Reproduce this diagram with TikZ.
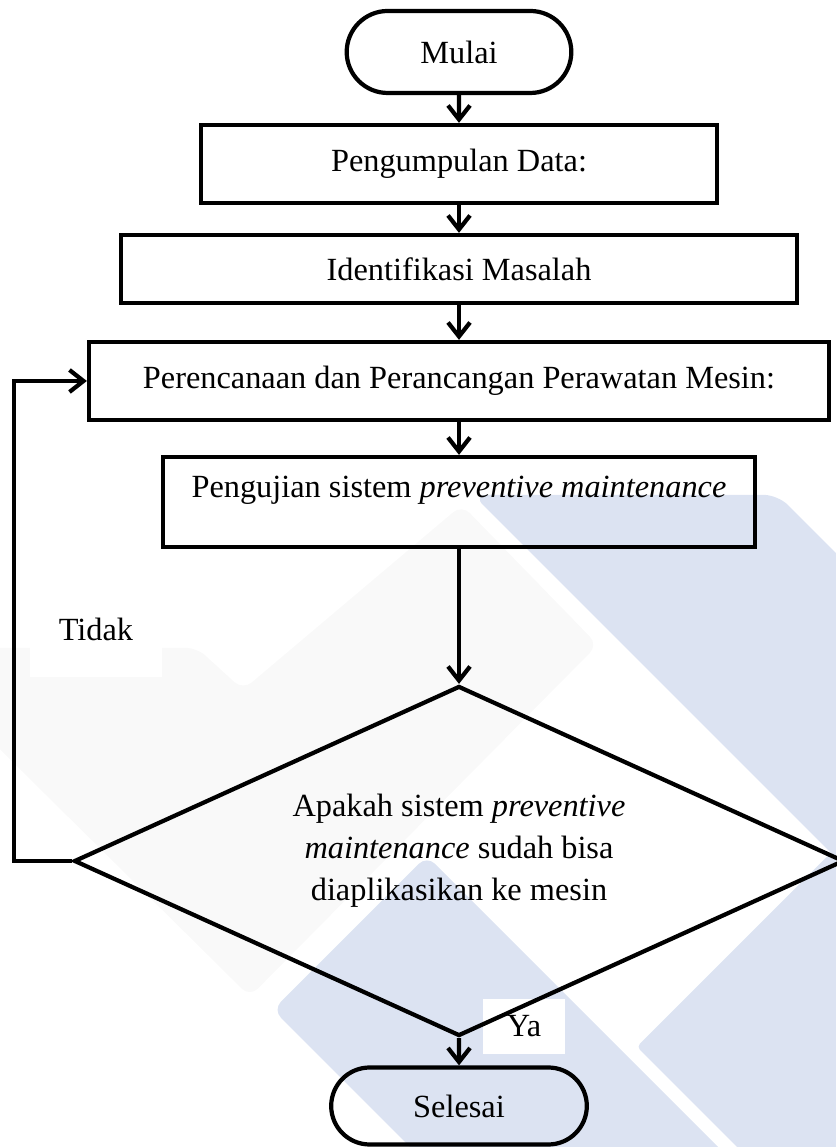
\documentclass[tikz,border=0pt]{standalone}
\usepackage{fontspec}
\setmainfont{Liberation Serif}
\usetikzlibrary{shapes.geometric,shapes.misc,arrows.meta}

\definecolor{wmblue}{RGB}{220,227,242}
\definecolor{wmgray}{RGB}{249,249,249}

\begin{document}
\begin{tikzpicture}[
        every node/.style={font=\fontsize{23}{30}\selectfont},
        terminal/.style={draw, rounded rectangle, line width=3pt, minimum width=#1, minimum height=2.05cm},
        proses/.style={draw, rectangle, line width=3pt, minimum height=1.95cm},
        alur/.style={line width=3pt, -{Straight Barb[length=0.35cm,width=0.55cm]}},
        ket/.style={fill=white, inner sep=0pt}
    ]
    \useasboundingbox (0, 0) rectangle (20.9, 28.675);

    % watermark in the background
    \begin{scope}[x=0.025cm, y=-0.025cm, yshift=28.675cm]
        \clip (0, 0) rectangle (836, 1147);
        \fill[wmgray, rounded corners=8pt] (-30, 648) -- (197, 648) -- (243, 690) -- (462, 505) -- (598, 645) -- (250, 997) -- (-30, 720) -- cycle;
        \fill[wmblue, rounded corners=10pt] (473, 495) -- (778, 495) -- (1478, 1195) -- (1173, 1195) -- cycle;
        \fill[wmblue, rounded corners=8pt] (273, 1010) -- (427, 856) -- (827, 1256) -- (673, 1410) -- cycle;
        \fill[wmblue, rounded corners=3pt] (637, 1047) -- (1037, 647) -- (1437, 1047) -- (1037, 1447) -- cycle;
    \end{scope}

    % labels of the two branches
    \node[ket, minimum width=3.3cm, minimum height=2.4cm] (tidak) at (2.4, 12.95) {Tidak};
    \node[ket, minimum width=2.05cm, minimum height=1.375cm] (ya) at (13.1, 3.02) {Ya};

    \node[terminal=5.85cm] (mulai) at (11.475, 27.375) {Mulai};
    \node[proses, minimum width=12.9cm] (data) at (11.475, 24.575) {Pengumpulan Data:};
    \node[proses, minimum width=16.9cm, minimum height=1.7cm] (masalah) at (11.475, 21.95) {Identifikasi Masalah};
    \node[proses, minimum width=18.5cm] (rencana) at (11.475, 19.15) {Perencanaan dan Perancangan Perawatan Mesin:};
    \node[proses, minimum width=14.8cm, minimum height=2.25cm, text height=0.6cm, text depth=0.8cm] (uji) at (11.475, 16.125) {Pengujian sistem \textit{preventive maintenance}};
    \node[draw, diamond, aspect=2.2, line width=3pt, minimum width=19.25cm, minimum height=8.75cm, inner sep=0pt, align=center, text depth=0.7cm] (cek) at (11.475, 7.15) {Apakah sistem \textit{preventive}\\ \textit{maintenance} sudah bisa\\ diaplikasikan ke mesin};
    \node[terminal=6.625cm, minimum height=1.925cm] (selesai) at (11.475, 1.025) {Selesai};

    \draw[alur] (mulai) -- (data);
    \draw[alur] (data) -- (masalah);
    \draw[alur] (masalah) -- (rencana);
    \draw[alur] (rencana) -- (uji);
    \draw[alur] (uji) -- (cek);
    \draw[alur] (cek) -- (selesai);

    \coordinate (kiri) at (0.35, 7.15);
    \draw[alur] (cek.west) -- (kiri) |- (rencana.west);
\end{tikzpicture}
\end{document}
